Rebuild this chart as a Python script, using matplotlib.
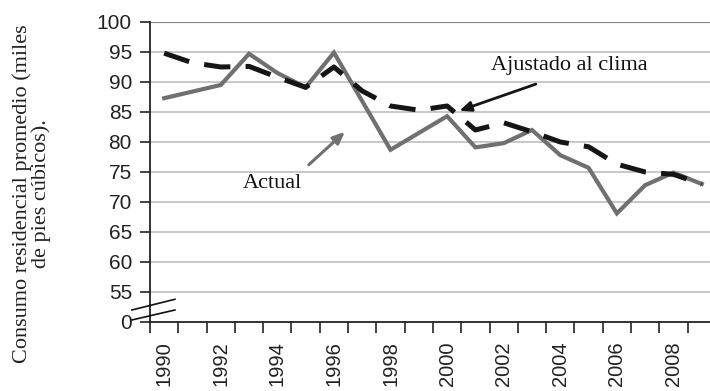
import matplotlib
matplotlib.use("Agg")
import matplotlib.pyplot as plt
from matplotlib.lines import Line2D

years = [str(y) for y in range(1990, 2010)]
actual = [87.3, 88.4, 89.5, 94.7, 91.5, 89.1, 94.9, 86.8, 78.7, 81.5,
          84.3, 79.1, 79.8, 82.0, 77.8, 75.7, 68.1, 72.8, 74.9, 73.0]
adjusted = [94.8, 93.2, 92.5, 92.6, 90.8, 89.1, 92.5, 88.5, 86.0, 85.3,
            86.0, 82.0, 83.2, 81.7, 80.0, 79.2, 76.3, 75.0, 74.6, 73.0]
ytick_vals = [50, 55, 60, 65, 70, 75, 80, 85, 90, 95, 100]
ytick_labels = ["0", "55", "60", "65", "70", "75", "80", "85", "90", "95", "100"]

plt.rcParams["lines.scale_dashes"] = False
serif = ["Liberation Serif", "DejaVu Serif"]
sans = ["Liberation Sans", "DejaVu Sans"]

fig = plt.figure(figsize=(7.1, 3.91), dpi=100)
ax = fig.add_axes([0.2113, 0.1765, 0.797, 0.7673])

x = list(range(len(years)))
ax.plot(x, actual, color="#707070", lw=3.0, solid_joinstyle="miter", zorder=3)
ax.plot(x, adjusted, color="#151515", lw=3.6, dashes=(19, 11), zorder=4)

ax.set_xlim(-0.5, len(years) - 0.5)
ax.set_ylim(50, 100)

# grid
for v in ytick_vals[1:-1]:
    ax.axhline(v, color="#c4c4c4", lw=1.3, zorder=1)
ax.axhline(100, color="#8a8a8a", lw=1.6, zorder=1)

for s in ["top", "right"]:
    ax.spines[s].set_visible(False)
ax.spines["left"].set_color("#222222")
ax.spines["left"].set_linewidth(1.3)
ax.spines["bottom"].set_color("#222222")
ax.spines["bottom"].set_linewidth(1.3)

ax.set_yticks(ytick_vals)
ax.set_yticklabels(ytick_labels, family=sans, fontsize=15, color="#222222")
ax.tick_params(axis="y", length=7, width=1.2, color="#222222", pad=6)

ax.set_xticks(x[::2])
ax.set_xticklabels(years[::2], rotation=90, family=sans, fontsize=14.5,
                   va="top", color="#222222")
ax.tick_params(axis="x", which="major", length=0, pad=14)
ax.set_xticks([i - 0.5 for i in range(len(years) + 1)], minor=True)
ax.tick_params(axis="x", which="minor", length=8, width=1.2, color="#222222")

# axis break marks
for y0, y1 in [(0.040, 0.0757), (0.0067, 0.040)]:
    ax.add_line(Line2D([-0.032, 0.044], [y0, y1], transform=ax.transAxes,
                       color="#111111", lw=1.2, clip_on=False, zorder=5))

# annotations
ax.annotate("", xy=(10.34, 85.05), xytext=(13.23, 89.8),
            arrowprops=dict(arrowstyle="-|>,head_length=0.7,head_width=0.3",
                            color="#151515", lw=2.0))
ax.text(14.31, 92.7, "Ajustado al clima", family=serif, fontsize=16,
        ha="center", va="center", color="#111111")

ax.annotate("", xy=(6.46, 82.0), xytext=(5.04, 75.9),
            arrowprops=dict(arrowstyle="-|>,head_length=0.7,head_width=0.3",
                            color="#707070", lw=2.2))
ax.text(3.83, 73.1, "Actual", family=serif, fontsize=16,
        ha="center", va="center", color="#111111")

fig.text(0.045, 0.505, "Consumo residencial promedio (miles\nde pies cúbicos).",
         family=serif, fontsize=16, rotation=90, ha="center", va="center",
         multialignment="center", linespacing=0.95, color="#222222")

fig.savefig("out.png", dpi=100)
